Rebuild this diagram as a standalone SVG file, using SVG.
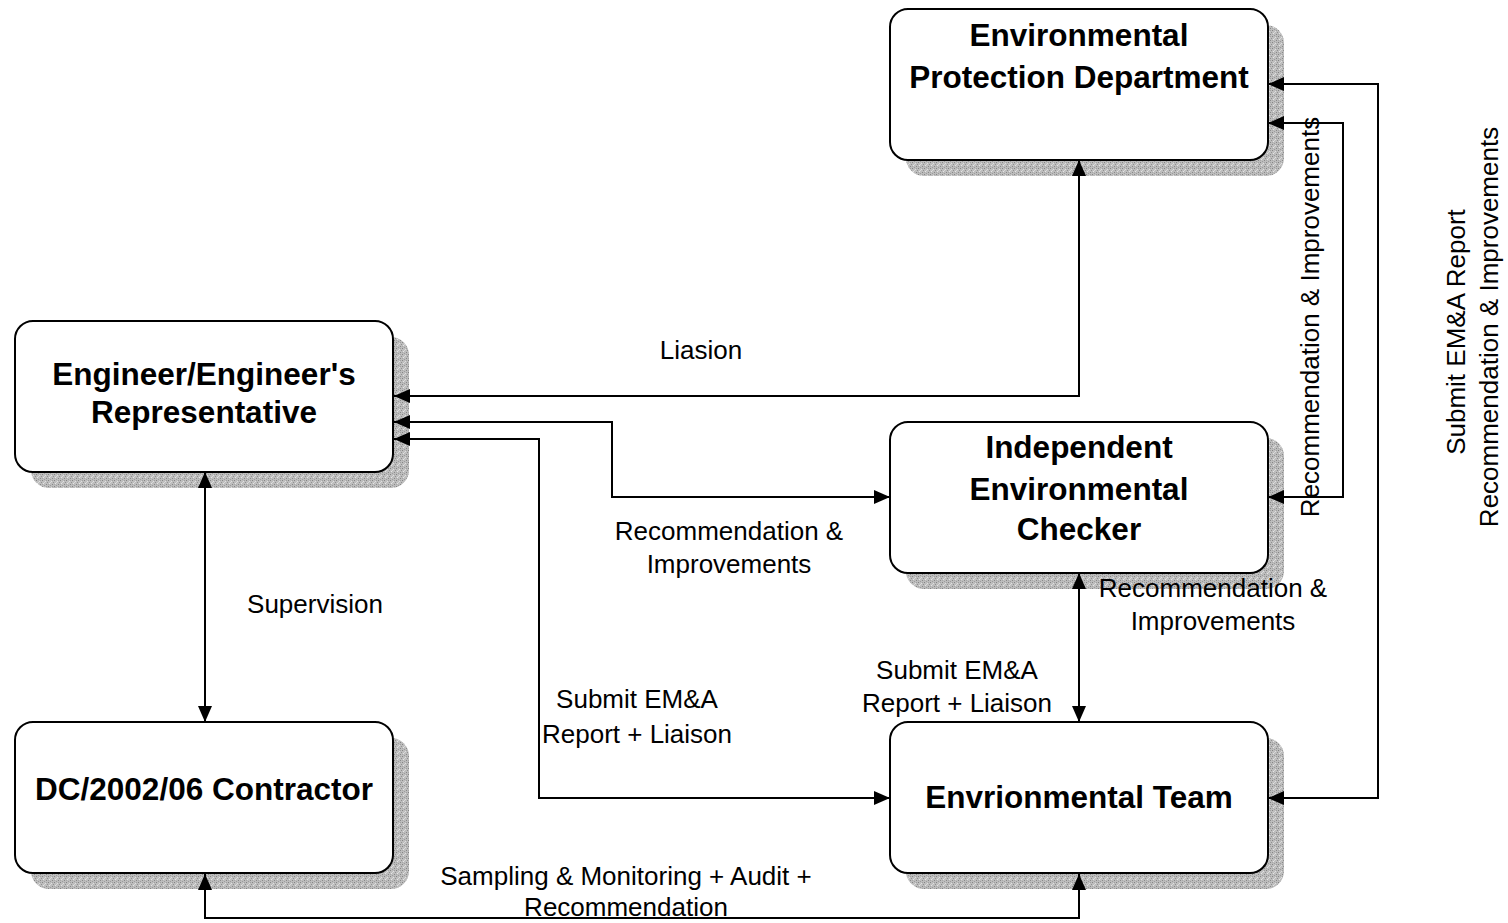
<svg xmlns="http://www.w3.org/2000/svg" width="1508" height="923" viewBox="0 0 1508 923">
<style>
.box{fill:#fff;stroke:#000;stroke-width:2}
.shadow{fill:url(#grain)}
.title{font-family:"Liberation Sans",Arial,sans-serif;font-weight:bold;font-size:31.5px;text-anchor:middle;fill:#000}
.lbl{font-family:"Liberation Sans",Arial,sans-serif;font-size:26px;text-anchor:middle;fill:#000}
.conn{fill:none;stroke:#000;stroke-width:2;marker-start:url(#arr);marker-end:url(#arr)}
</style>
<defs>
<pattern id="grain" width="6" height="6" patternUnits="userSpaceOnUse">
<rect width="6" height="6" fill="#bdbdbd"/>
<rect x="0" y="0" width="1" height="1" fill="#858585"/>
<rect x="3" y="1" width="1" height="1" fill="#e0e0e0"/>
<rect x="5" y="2" width="1" height="1" fill="#909090"/>
<rect x="1" y="3" width="1" height="1" fill="#e6e6e6"/>
<rect x="4" y="4" width="1" height="1" fill="#888888"/>
<rect x="2" y="5" width="1" height="1" fill="#9c9c9c"/>
<rect x="2" y="2" width="1" height="1" fill="#d8d8d8"/>
<rect x="0" y="4" width="1" height="1" fill="#a8a8a8"/>
<rect x="4" y="0" width="1" height="1" fill="#a0a0a0"/>
</pattern>
<marker id="arr" viewBox="0 0 16 14" refX="16" refY="7" markerWidth="16" markerHeight="14" markerUnits="userSpaceOnUse" orient="auto-start-reverse">
<path d="M0,0 L16,7 L0,14 Z" fill="#000"/>
</marker>
</defs>

<g id="node-epd">
<rect class="shadow" x="906" y="25" width="378" height="151" rx="18"/>
<rect class="box" x="890" y="9" width="378" height="151" rx="18"/>
<text class="title" x="1079" y="46">Environmental</text>
<text class="title" x="1079" y="88">Protection Department</text>
</g>

<g id="node-engineer">
<rect class="shadow" x="31" y="337" width="378" height="151" rx="18"/>
<rect class="box" x="15" y="321" width="378" height="151" rx="18"/>
<text class="title" x="204" y="385">Engineer/Engineer's</text>
<text class="title" x="204" y="423">Representative</text>
</g>

<g id="node-iec">
<rect class="shadow" x="906" y="438" width="378" height="151" rx="18"/>
<rect class="box" x="890" y="422" width="378" height="151" rx="18"/>
<text class="title" x="1079" y="458">Independent</text>
<text class="title" x="1079" y="500">Environmental</text>
<text class="title" x="1079" y="540">Checker</text>
</g>

<g id="node-contractor">
<rect class="shadow" x="31" y="738" width="378" height="151" rx="18"/>
<rect class="box" x="15" y="722" width="378" height="151" rx="18"/>
<text class="title" x="204" y="800">DC/2002/06 Contractor</text>
</g>

<g id="node-et">
<rect class="shadow" x="906" y="738" width="378" height="151" rx="18"/>
<rect class="box" x="890" y="722" width="378" height="151" rx="18"/>
<text class="title" x="1079" y="808">Envrionmental Team</text>
</g>

<g id="connectors">
<path class="conn" d="M1079,160 L1079,396 L394,396"/>
<path class="conn" d="M394,422 L612,422 L612,497 L890,497"/>
<path class="conn" d="M394,439 L539,439 L539,798 L890,798"/>
<path class="conn" d="M205,472 L205,722"/>
<path class="conn" d="M1079,573 L1079,722"/>
<path class="conn" d="M205,874 L205,918 L1079,918 L1079,874"/>
<path class="conn" d="M1268,84 L1378,84 L1378,798 L1268,798"/>
<path class="conn" d="M1268,123 L1343,123 L1343,497 L1268,497"/>
</g>

<g id="labels">
<text class="lbl" x="701" y="359">Liasion</text>
<text class="lbl" x="729" y="540">Recommendation &amp;</text>
<text class="lbl" x="729" y="573">Improvements</text>
<text class="lbl" x="315" y="613">Supervision</text>
<text class="lbl" x="637" y="708">Submit EM&amp;A</text>
<text class="lbl" x="637" y="743">Report + Liaison</text>
<text class="lbl" x="957" y="679">Submit EM&amp;A</text>
<text class="lbl" x="957" y="712">Report + Liaison</text>
<text class="lbl" x="1213" y="597">Recommendation &amp;</text>
<text class="lbl" x="1213" y="630">Improvements</text>
<text class="lbl" x="626" y="885">Sampling &amp; Monitoring + Audit +</text>
<text class="lbl" x="626" y="916">Recommendation</text>
<text class="lbl" transform="translate(1319,317) rotate(-90)">Recommendation &amp; Improvements</text>
<text class="lbl" transform="translate(1465,332) rotate(-90)">Submit EM&amp;A Report</text>
<text class="lbl" transform="translate(1498,327) rotate(-90)">Recommendation &amp; Improvements</text>
</g>
</svg>
